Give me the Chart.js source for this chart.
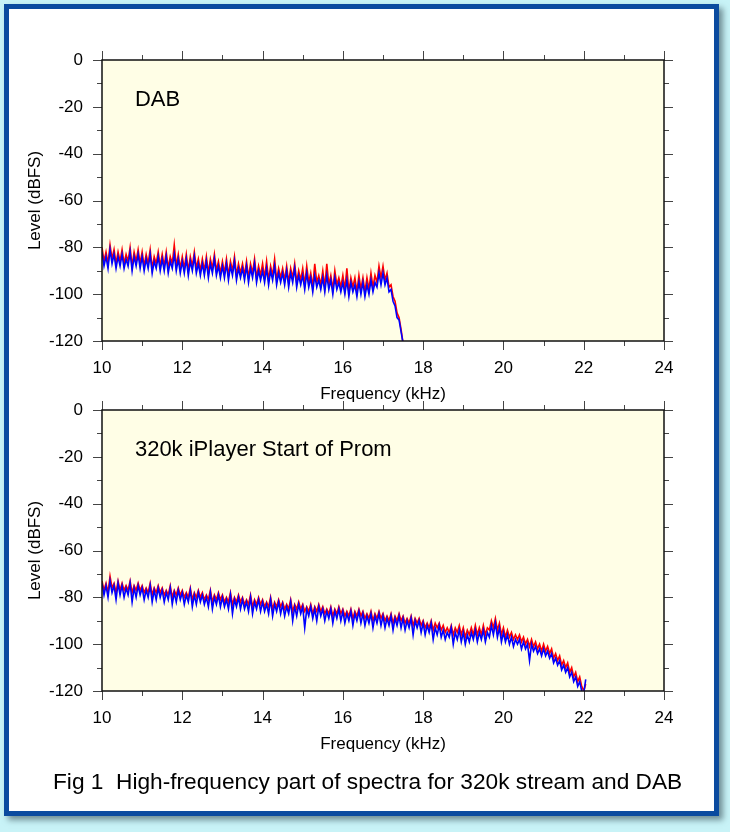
<!DOCTYPE html>
<html>
<head>
<meta charset="utf-8">
<script src="https://cdn.jsdelivr.net/npm/chart.js@4.4.1/dist/chart.umd.min.js"></script>
<style>
  html, body { margin: 0; padding: 0; }
  body { width: 730px; height: 832px; background: #c8f3f7; position: relative; overflow: hidden;
         font-family: "Liberation Sans", Arial, sans-serif; }
  .frame { position: absolute; left: 4px; top: 4px; width: 715px; height: 812px; box-sizing: border-box;
           border: 5px solid #0b4b9f; background: #fff; box-shadow: 4px 4px 6px rgba(40, 60, 70, 0.55); }
  canvas { position: absolute; left: 0; }
  #dabChart { top: 0; }
  #iplayerChart { top: 350px; }
  .caption { position: absolute; left: 53px; top: 768px; font-size: 22.7px; color: #000; white-space: pre; }
</style>
</head>
<body>
<div class="frame"></div>
<canvas id="dabChart" width="730" height="410"></canvas>
<canvas id="iplayerChart" width="730" height="410"></canvas>
<div class="caption">Fig 1  High-frequency part of spectra for 320k stream and DAB</div>
<script>
// spectra sampled every 0.05 kHz starting at 10 kHz
const FREQ_START = 10;
const FREQ_STEP = 0.05;
const X_RANGE = [10, 24];
const Y_RANGE = [-120, 0];
const X_TICK_STEP = 2;
const Y_TICK_STEP = 20;

const dabBlue = [
  -82, -88, -84, -89, -81, -87, -83, -89, -84, -88,
  -83, -89, -85, -88, -82, -90, -84, -88, -83, -89,
  -84, -90, -85, -89, -83, -91, -86, -89, -84, -90,
  -85, -90, -84, -91, -86, -89, -83, -90, -85, -91,
  -86, -91, -85, -92, -86, -90, -84, -91, -87, -92,
  -87, -92, -86, -93, -87, -91, -85, -92, -88, -93,
  -88, -93, -87, -94, -88, -92, -86, -94, -89, -93,
  -89, -94, -88, -95, -89, -93, -87, -95, -90, -94,
  -90, -95, -89, -96, -90, -94, -88, -96, -91, -95,
  -91, -96, -90, -97, -91, -95, -89, -97, -92, -96,
  -92, -98, -91, -97, -93, -99, -92, -97, -94, -98,
  -93, -99, -92, -98, -94, -100, -93, -98, -95, -99,
  -95, -100, -94, -101, -95, -99, -96, -101, -95, -100,
  -95, -101, -96, -100, -94, -99, -95, -97, -91, -96,
  -91, -96, -93, -99, -98, -103, -105, -110, -111, -116,
  -121
];
const dabRed = [
  -80, -86, -82, -87, -79, -85, -81, -87, -82, -86,
  -81, -87, -83, -86, -80, -88, -82, -86, -81, -87,
  -82, -88, -83, -87, -81, -89, -84, -87, -82, -88,
  -83, -88, -82, -89, -84, -87, -79, -88, -83, -89,
  -84, -89, -83, -90, -84, -88, -82, -89, -85, -90,
  -85, -90, -84, -91, -85, -89, -83, -90, -86, -91,
  -86, -91, -85, -92, -86, -90, -84, -92, -87, -91,
  -87, -92, -86, -93, -87, -91, -85, -93, -88, -92,
  -87, -93, -86, -94, -88, -92, -85, -94, -89, -93,
  -89, -94, -88, -95, -89, -93, -87, -95, -90, -94,
  -89, -96, -88, -95, -91, -97, -87, -95, -92, -96,
  -90, -97, -87, -96, -92, -98, -90, -96, -93, -97,
  -92, -98, -89, -99, -93, -97, -93, -99, -92, -98,
  -93, -99, -93, -98, -91, -97, -92, -95, -88, -93,
  -88, -94, -91, -97, -96, -101, -103, -108, -110, -115,
  -121
];

const iplayerBlue = [
  -74, -79, -75, -80, -73, -78, -75, -81, -74, -79,
  -75, -80, -76, -79, -74, -82, -76, -80, -75, -79,
  -76, -81, -77, -80, -75, -82, -77, -81, -76, -80,
  -77, -82, -78, -81, -76, -83, -78, -82, -77, -81,
  -78, -83, -79, -82, -77, -84, -79, -83, -78, -82,
  -79, -83, -80, -84, -78, -85, -80, -83, -79, -84,
  -80, -84, -81, -85, -79, -87, -81, -84, -80, -85,
  -81, -85, -82, -86, -80, -87, -82, -85, -81, -86,
  -82, -86, -83, -87, -81, -88, -83, -86, -82, -87,
  -83, -88, -84, -87, -82, -90, -84, -88, -83, -87,
  -84, -93, -85, -88, -84, -89, -85, -90, -84, -88,
  -85, -90, -86, -89, -85, -91, -86, -89, -85, -90,
  -86, -91, -87, -90, -86, -92, -87, -90, -86, -91,
  -87, -92, -88, -91, -87, -93, -88, -91, -87, -92,
  -88, -93, -89, -92, -88, -94, -89, -92, -88, -93,
  -89, -94, -90, -93, -89, -96, -90, -93, -90, -95,
  -91, -96, -92, -95, -91, -98, -93, -96, -92, -97,
  -94, -98, -95, -97, -93, -100, -95, -98, -94, -99,
  -95, -100, -96, -99, -95, -98, -94, -99, -95, -98,
  -94, -99, -95, -97, -92, -96, -91, -97, -93, -99,
  -95, -99, -96, -100, -97, -101, -98, -100, -98, -102,
  -99, -102, -100, -107, -100, -103, -101, -104, -102, -105,
  -102, -105, -103, -106, -104, -108, -106, -109, -107, -111,
  -109, -112, -110, -114, -112, -116, -114, -118, -116, -120,
  -121, -115
];
const iplayerRed = [
  -73, -77, -74, -78, -71, -76, -74, -78, -73, -77,
  -74, -77, -75, -77, -73, -78, -75, -77, -74, -77,
  -75, -78, -76, -78, -74, -79, -76, -78, -75, -78,
  -76, -79, -77, -79, -75, -80, -77, -79, -76, -79,
  -77, -80, -78, -80, -76, -81, -78, -80, -77, -80,
  -78, -81, -79, -81, -77, -82, -79, -81, -78, -81,
  -79, -82, -80, -82, -78, -83, -80, -82, -79, -82,
  -80, -83, -81, -83, -79, -84, -81, -83, -80, -83,
  -81, -84, -82, -84, -80, -85, -82, -84, -81, -84,
  -82, -85, -83, -85, -81, -86, -83, -85, -82, -85,
  -83, -86, -84, -86, -83, -87, -84, -86, -83, -86,
  -84, -87, -85, -87, -84, -88, -85, -87, -84, -87,
  -85, -88, -86, -88, -85, -89, -86, -88, -85, -88,
  -86, -89, -87, -89, -86, -90, -87, -89, -86, -89,
  -87, -90, -88, -90, -87, -91, -88, -90, -87, -90,
  -88, -91, -89, -91, -88, -92, -89, -91, -89, -92,
  -90, -93, -91, -93, -90, -94, -91, -93, -91, -94,
  -92, -95, -93, -95, -92, -96, -93, -95, -92, -96,
  -93, -97, -94, -96, -93, -96, -92, -96, -93, -96,
  -92, -96, -93, -94, -90, -93, -89, -94, -91, -96,
  -93, -97, -94, -97, -95, -98, -96, -98, -96, -99,
  -97, -100, -98, -101, -98, -101, -99, -102, -100, -103,
  -100, -103, -101, -104, -102, -106, -104, -107, -105, -109,
  -107, -110, -108, -112, -110, -114, -112, -116, -114, -118,
  -120, -117
];

const FONT = '"Liberation Sans", Arial, Helvetica, sans-serif';
Chart.defaults.font.family = FONT;
Chart.defaults.color = '#000';

const toPoints = arr => arr.map((v, i) => ({ x: FREQ_START + i * FREQ_STEP, y: v }));

// yellow plot area, box, outward ticks on all four sides, in-plot label
const framePlugin = {
  id: 'frame',
  beforeDatasetsDraw(chart) {
    const { ctx, chartArea: a } = chart;
    ctx.save();
    ctx.fillStyle = '#fffee6';
    ctx.fillRect(a.left, a.top, a.width, a.height);
    ctx.restore();
  },
  afterDraw(chart, args, opts) {
    const { ctx, chartArea: a, scales: { x, y } } = chart;
    ctx.save();
    ctx.strokeStyle = '#444';
    ctx.lineWidth = 1;
    ctx.beginPath();
    for (let f = x.min; f <= x.max; f += 1) {
      const px = Math.round(x.getPixelForValue(f)) + 0.5;
      const len = f % X_TICK_STEP === 0 ? 9 : 5;
      ctx.moveTo(px, a.top); ctx.lineTo(px, a.top - len);
      ctx.moveTo(px, a.bottom); ctx.lineTo(px, a.bottom + len);
    }
    for (let d = y.min; d <= y.max; d += 10) {
      const py = Math.round(y.getPixelForValue(d)) + 0.5;
      const len = d % Y_TICK_STEP === 0 ? 9 : 5;
      ctx.moveTo(a.left, py); ctx.lineTo(a.left - len, py);
      ctx.moveTo(a.right, py); ctx.lineTo(a.right + len, py);
    }
    ctx.stroke();
    ctx.lineWidth = 1.5;
    ctx.strokeStyle = '#111';
    ctx.strokeRect(a.left, a.top, a.width, a.height);
    ctx.fillStyle = '#000';
    ctx.font = '22px ' + FONT;
    ctx.textBaseline = 'middle';
    ctx.fillText(opts.label, x.getPixelForValue(10.82), y.getPixelForValue(-17));
    ctx.restore();
  }
};

function spectrumChart(canvasId, label, blue, red) {
  return new Chart(document.getElementById(canvasId), {
    type: 'line',
    data: {
      datasets: [
        { data: toPoints(blue), borderColor: '#0000ff', borderWidth: 1.6 },
        { data: toPoints(red), borderColor: '#ff0000', borderWidth: 1.6 }
      ]
    },
    options: {
      responsive: false,
      animation: false,
      events: [],
      layout: { padding: { left: 0, right: 66, top: 60, bottom: 0 } },
      elements: { point: { radius: 0 }, line: { tension: 0 } },
      plugins: { legend: { display: false }, tooltip: { enabled: false }, frame: { label } },
      scales: {
        x: {
          type: 'linear', min: X_RANGE[0], max: X_RANGE[1],
          grid: { display: false, drawTicks: false }, border: { display: false },
          ticks: { stepSize: X_TICK_STEP, padding: 17, font: { size: 17 }, maxRotation: 0 },
          title: { display: true, text: 'Frequency (kHz)', font: { size: 17 }, padding: { top: 0, bottom: 5 } },
          afterFit: s => { s.height = 69; }
        },
        y: {
          min: Y_RANGE[0], max: Y_RANGE[1],
          grid: { display: false, drawTicks: false }, border: { display: false },
          ticks: { stepSize: Y_TICK_STEP, padding: 19, font: { size: 17 } },
          title: { display: true, text: 'Level (dBFS)', font: { size: 17 }, padding: { top: 25, bottom: 0 } },
          afterFit: s => { s.width = 102; }
        }
      }
    },
    plugins: [framePlugin]
  });
}

spectrumChart('dabChart', 'DAB', dabBlue, dabRed);
spectrumChart('iplayerChart', '320k iPlayer Start of Prom', iplayerBlue, iplayerRed);
</script>
</body>
</html>
